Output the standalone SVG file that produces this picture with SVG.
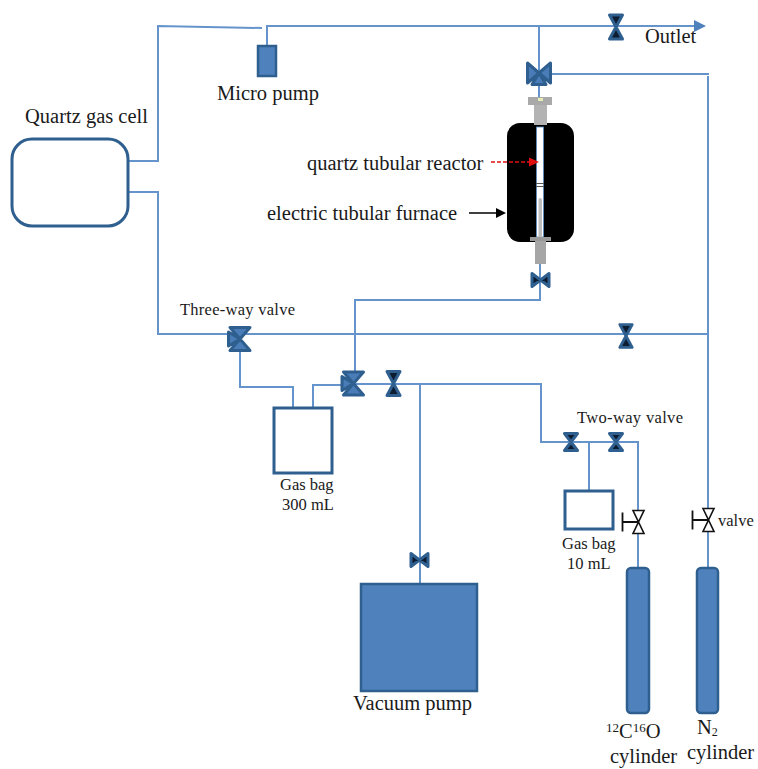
<svg xmlns="http://www.w3.org/2000/svg" width="758" height="769" viewBox="0 0 758 769">
<style>
text{font-family:"Liberation Serif","Times New Roman",serif;fill:#1a1a1a}
.t20{font-size:20.5px}.t17{font-size:16.500px}.t16{font-size:16.500px}
.pipe{fill:none;stroke:#6494cb;stroke-width:2}
.box{fill:#fff;stroke:#2f5f8f;stroke-width:3}
.solid{fill:#4f81bd;stroke:#2f5f8f;stroke-width:2.5}
.vo{fill:#4a7db8;stroke:#2f5f8f;stroke-width:3;stroke-linejoin:round}
.vd{fill:#0d1c30;stroke:#2f5f8f;stroke-width:3;stroke-linejoin:round}
.mv{fill:#fff;stroke:#111;stroke-width:1.6}
</style>
<defs>
<g id="v2"><path class="vd" d="M-6.500-12H6.500L0 0ZM-6.500 12H6.500L0 0Z"/></g>
<g id="v2s"><path class="vd" d="M-6.500-8.500H6.500L0 0ZM-6.500 8.500H6.500L0 0Z"/></g>
<g id="v3"><path class="vo" d="M-11.500-10L0 0L-11.500 10ZM11.500-10L0 0L11.500 10ZM-7 11.500H7L0 0Z"/></g>
<g id="vm"><path class="mv" d="M-5.500-11.500H5.500L-5.500 11.500H5.500Z"/><path d="M0 0H-16M-16-9.500V9.500" fill="none" stroke="#111" stroke-width="1.8"/></g>
<marker id="ab" markerWidth="6" markerHeight="6" refX="5" refY="3" orient="auto"><path d="M0 0L6 3L0 6Z" fill="#4f81bd"/></marker>
</defs>
<g id="connectors">
<path class="pipe" d="M128 161H158V26L262 28"/>
<path class="pipe" d="M267 46V26H704" marker-end="url(#ab)"/>
<path class="pipe" d="M539 25V97"/>
<path class="pipe" d="M550 74H709"/>
<path class="pipe" d="M708 76V568"/>
<path class="pipe" d="M128 192H158V334H708"/>
<path class="pipe" d="M240 345V387H293V408"/>
<path class="pipe" d="M313 408V385H354"/>
<path class="pipe" d="M355 383V300H540V264"/>
<path class="pipe" d="M354 384H541V442H638V568"/>
<path class="pipe" d="M589 442V491"/>
<path class="pipe" d="M420 384V584"/>
</g>
<g id="outlet-valve"><use href="#v2" x="616" y="27"/></g>
<g id="reactor-three-way-valve"><use href="#v3" x="539" y="73"/></g>
<g id="micro-pump"><rect class="solid" x="258" y="46" width="18" height="30"/><text class="t20" x="217" y="100">Micro pump</text></g>
<g id="outlet-label"><text class="t20" x="645" y="43">Outlet</text></g>
<g id="quartz-gas-cell"><rect class="box" x="12" y="139" width="116" height="87" rx="20"/><text class="t20" x="25" y="123">Quartz gas cell</text></g>
<g id="furnace">
<rect x="507" y="123" width="67" height="119" rx="13" fill="#000"/>
<rect x="528" y="97" width="24" height="8" fill="#a9a9a9"/>
<rect x="538" y="98" width="5" height="3" fill="#e4edb8"/>
<rect x="534" y="105" width="13" height="20" fill="#b3b3b3"/>
<rect x="536.500" y="127" width="7" height="110" fill="#fff" stroke="#5b8cc4" stroke-width=".8"/>
<path d="M536 183.500H544M536 186.500H544" stroke="#555" stroke-width="1"/>
<rect x="538.500" y="198" width="3.500" height="40" rx="1.700" fill="#bdbdbd"/>
<rect x="530" y="237" width="21" height="4" fill="#999"/>
<rect x="535" y="241" width="11" height="23" fill="#a6a6a6"/>
</g>
<g id="furnace-labels">
<text class="t20" x="307" y="170">quartz tubular reactor</text>
<path d="M491 162H532" fill="none" stroke="#e01010" stroke-width="1.500" stroke-dasharray="4 2"/>
<path d="M529 157.500L539 162L529 166.500Z" fill="#e01010"/>
<text class="t20" x="267" y="220">electric tubular furnace</text>
<path d="M469 213H500" fill="none" stroke="#000" stroke-width="1.500"/>
<path d="M496 208L506 213L496 218Z" fill="#000"/>
</g>
<g id="furnace-valve"><use href="#v2s" transform="translate(540.500 280) rotate(90)"/></g>
<g id="valve-line-right"><use href="#v2" transform="translate(626 336) scale(.95)"/></g>
<g id="three-way-valve-a"><text class="t17" x="180" y="315" textLength="115">Three-way  valve</text><use href="#v3" transform="translate(240 339) rotate(90)"/></g>
<g id="three-way-valve-b"><use href="#v3" transform="translate(353.500 383.500) rotate(90)"/></g>
<g id="valve-b"><use href="#v2" x="393.500" y="383.500"/></g>
<g id="gas-bag-300"><rect class="box" x="274" y="408" width="58" height="65"/><text class="t16" x="280" y="490">Gas bag</text><text class="t16" x="282" y="510">300 mL</text></g>
<g id="two-way-valves"><text class="t17" x="577" y="423" textLength="106">Two-way valve</text><use href="#v2s" x="571" y="442"/><use href="#v2s" x="616" y="442"/></g>
<g id="gas-bag-10"><rect class="box" x="565" y="491" width="48" height="38"/><text class="t16" x="562" y="549">Gas bag</text><text class="t16" x="567" y="569">10 mL</text></g>
<g id="vacuum-pump"><use href="#v2s" transform="translate(419.500 560) rotate(90)"/><rect class="solid" x="361" y="584" width="116" height="107"/><text class="t20" x="353" y="710">Vacuum pump</text></g>
<g id="co-cylinder"><use href="#vm" x="638.500" y="522"/><rect class="solid" x="627" y="568" width="22" height="145" rx="4"/><text class="t20" x="606" y="738"><tspan font-size="13" dy="-6">12</tspan><tspan dy="6">C</tspan><tspan font-size="13" dy="-6">16</tspan><tspan dy="6">O</tspan></text><text class="t20" x="610" y="763">cylinder</text></g>
<g id="n2-cylinder"><use href="#vm" x="708.500" y="520"/><text class="t16" x="718" y="526">valve</text><rect class="solid" x="697" y="568" width="21" height="145" rx="4"/><text class="t20" x="697" y="734">N<tspan font-size="12" dy="2">2</tspan></text><text class="t20" x="687" y="759">cylinder</text></g>
</svg>
